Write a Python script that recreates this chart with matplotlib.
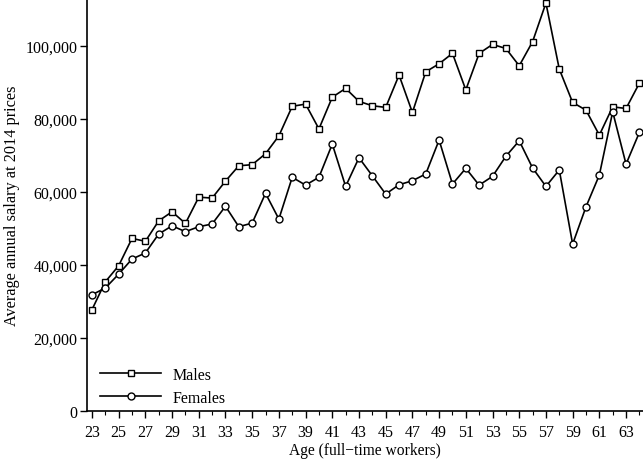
import numpy as np
import matplotlib
matplotlib.use("Agg")
import matplotlib.pyplot as plt
from matplotlib.ticker import FuncFormatter, MultipleLocator

plt.rcParams['font.family'] = ['Liberation Serif', 'DejaVu Serif']

ages = list(range(23, 65))
males = [27750, 35400, 39800, 47300, 46500, 52100, 54600, 51400, 58600, 58350,
         63000, 67200, 67500, 70500, 75400, 83500, 84100, 77300, 86000, 88400,
         84850, 83650, 83200, 92050, 81800, 92950, 95150, 98000, 88000, 98000,
         100450, 99350, 94600, 101200, 111800, 93700, 84550, 82450, 75600, 83350,
         82900, 89850]
females = [31850, 33700, 37500, 41650, 43300, 48500, 50750, 49150, 50500, 51250,
           56100, 50500, 51500, 59650, 52600, 64050, 61900, 64050, 73150, 61550,
           69400, 64450, 59450, 62000, 63100, 64950, 74250, 62200, 66500, 61900,
           64300, 69800, 74050, 66600, 61550, 66050, 45750, 55950, 64650, 82000,
           67650, 76350]

fig = plt.figure(figsize=(6.43, 4.6), dpi=100)
ax = fig.add_axes([0.1353, 0.1043, 0.8647, 0.8957])

ax.plot(ages, males, color='black', lw=1.2, marker='s', ms=5, mfc='white',
        mew=1.0, label='Males')
ax.plot(ages, females, color='black', lw=1.2, marker='o', ms=5, mfc='white',
        mew=1.0, label='Females')

ax.set_xlim(22.63, 64.27)
ax.set_ylim(0, 112900)
ax.xaxis.set_minor_locator(MultipleLocator(2))
ax.set_xticks(range(23, 64, 2))
ax.set_yticks([0, 20000, 40000, 60000, 80000, 100000])
ax.yaxis.set_major_formatter(FuncFormatter(lambda v, p: f"{int(v):,}"))

for s in ['top', 'right']:
    ax.spines[s].set_visible(False)
for s in ['left', 'bottom']:
    ax.spines[s].set_linewidth(1.2)

ax.tick_params(axis='both', labelsize=11.5, direction='out', width=1.0,
               length=5, colors='black')
ax.tick_params(axis='x', which='minor', length=3, width=0.8)
ax.tick_params(axis='x', pad=4)
ax.tick_params(axis='y', pad=2)

ax.set_xlabel('Age (full\u2212time workers)', fontsize=11.2, labelpad=1.5)
ax.set_ylabel('Average annual salary at 2014 prices', fontsize=11.7, labelpad=4)

ax.legend(loc='lower left', bbox_to_anchor=(-0.002, -0.022), frameon=False,
          fontsize=11.5, handlelength=3.8, handletextpad=0.7, labelspacing=0.45)

fig.savefig('out.png', dpi=100)
